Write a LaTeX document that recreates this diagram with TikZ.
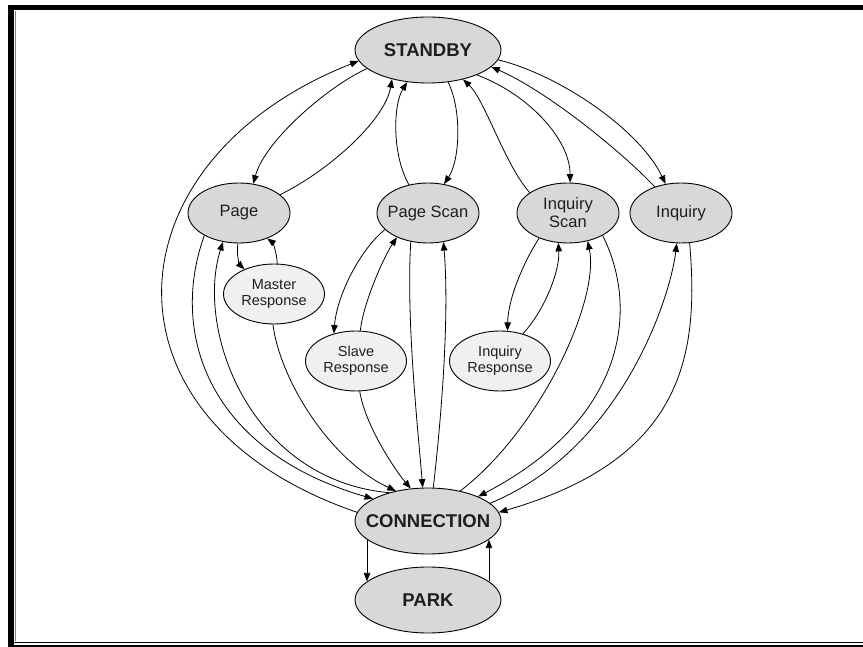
\documentclass[tikz,border=0pt]{standalone}
\usepackage{fontspec}
\setmainfont{Liberation Sans}
\usetikzlibrary{shapes.geometric,arrows.meta}
\definecolor{stategray}{RGB}{216,216,216}
\definecolor{respgray}{RGB}{240,240,240}
\definecolor{inkgray}{RGB}{30,30,30}
\newcommand{\ctrline}[1]{\makebox[0pt]{#1}}
\begin{document}
\begin{tikzpicture}[x=1pt,y=-1pt,
  state/.style={ellipse, draw, line width=0.9pt, fill=stategray, text=inkgray,
    minimum width=102pt, minimum height=60pt, inner sep=0pt, align=center,
    font=\fontsize{16.5}{18}\selectfont},
  bigstate/.style={state, minimum width=146pt, minimum height=66pt,
    font=\bfseries\fontsize{18.5}{20}\selectfont},
  resp/.style={state, minimum width=101pt, fill=respgray,
    font=\fontsize{14.5}{15.5}\selectfont},
  arr/.style={-{Triangle[length=8.5pt,width=6.5pt]}, line width=0.8pt},
]
\useasboundingbox (0,0) rectangle (863,647);
\fill[white] (0,0) rectangle (863,647);

% page frame
\fill[black] (8,5) rectangle (863,10.5);
\fill[black] (8,5) rectangle (14,647);
\draw[gray, line width=0.8pt] (15,11) -- (15,641);
\draw[black, line width=1.2pt] (14,642.5) -- (863,642.5);
\draw[black, line width=1.2pt] (14,646) -- (863,646);

% states
\node[bigstate] (sb) at (428,50) {\ctrline{STANDBY}};
\node[state] (pg) at (239,213) {\ctrline{Page}};
\node[state] (ps) at (428,213) {\ctrline{Page Scan}};
\node[state] (is) at (568,213) {\ctrline{Inquiry}\\\ctrline{Scan}};
\node[state] (iq) at (681,213) {\ctrline{Inquiry}};
\node[resp] (mr) at (274,294) {\ctrline{Master}\\\ctrline{Response}};
\node[resp] (sr) at (356,361) {\ctrline{Slave}\\\ctrline{Response}};
\node[resp] (ir) at (500,361) {\ctrline{Inquiry}\\\ctrline{Response}};
\node[bigstate] (cn) at (428,521) {\ctrline{CONNECTION}};
\node[bigstate] (pk) at (428,600) {\ctrline{PARK}};

% transitions around STANDBY
\draw[arr] (sb.197) .. controls (330,85) and (265,140) .. (pg.64);
\draw[arr] (pg.24) .. controls (330,170) and (385,120) .. (sb.219);
\draw[arr] (ps.124) .. controls (392,155) and (393,105) .. (sb.237);
\draw[arr] (sb.302) .. controls (462,110) and (460,160) .. (ps.61);
\draw[arr] (is.152) .. controls (505,165) and (485,100) .. (sb.320);
\draw[arr] (sb.333) .. controls (530,95) and (570,140) .. (is.86);
\draw[arr] (iq.135) .. controls (620,150) and (545,90) .. (sb.345);
\draw[arr] (sb.352) .. controls (560,75) and (640,130) .. (iq.118);
\draw[arr] (cn.173) .. controls (90,421) and (105,161) .. (sb.189);

% page side
\draw[arr] (pg.213) .. controls (170,330) and (205,450) .. (cn.158);
\draw[arr] (cn.144) .. controls (250,480) and (195,330) .. (pg.241);
\draw[arr] (pg.268) .. controls (236,255) and (240,265) .. (mr.140);
\draw[arr] (mr.84) .. controls (277,252) and (272,242) .. (pg.318);
\draw[arr] (mr.268) .. controls (280,380) and (330,460) .. (cn.137);

% page scan side
\draw[arr] (ps.201) .. controls (360,250) and (337,295) .. (sr.129);
\draw[arr] (sr.82) .. controls (364,300) and (385,255) .. (ps.218);
\draw[arr] (sr.277) .. controls (365,425) and (395,470) .. (cn.118);
\draw[arr] (ps.239) .. controls (406,320) and (418,430) .. (cn.99);
\draw[arr] (cn.81) .. controls (440,430) and (450,320) .. (ps.298);

% inquiry scan and inquiry side
\draw[arr] (is.221) .. controls (522,265) and (508,300) .. (ir.76);
\draw[arr] (ir.50) .. controls (545,310) and (560,270) .. (is.252);
\draw[arr] (cn.43) .. controls (540,430) and (600,300) .. (is.305);
\draw[arr] (is.327) .. controls (640,310) and (625,420) .. (cn.26);
\draw[arr] (cn.16) .. controls (620,450) and (670,300) .. (iq.262);
\draw[arr] (iq.286) .. controls (700,360) and (680,460) .. (cn.7);

% park
\draw[arr] (cn.197) -- (pk.163);
\draw[arr] (pk.17) -- (cn.343);
\end{tikzpicture}
\end{document}
